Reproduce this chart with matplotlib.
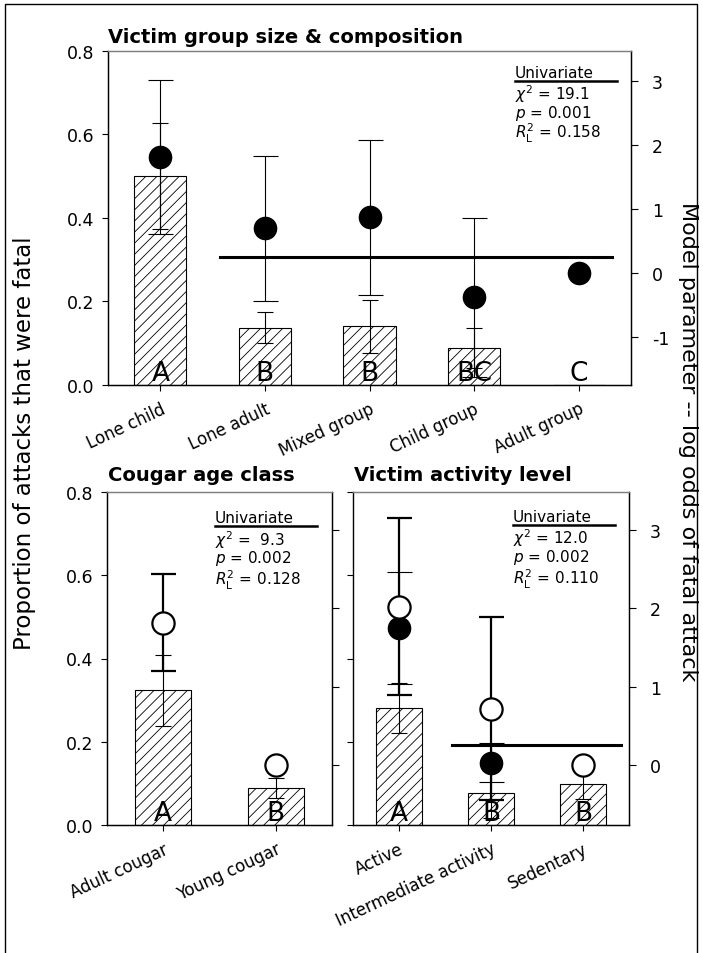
import numpy as np
import matplotlib
matplotlib.use('Agg')
import matplotlib.pyplot as plt
from matplotlib.patches import Rectangle

# victim group size & composition (top panel)
group_labels = ['Lone child', 'Lone adult', 'Mixed group', 'Child group', 'Adult group']
group_letters = ['A', 'B', 'B', 'BC', 'C']
group_prop = [0.50, 0.136, 0.140, 0.087, 0.0]
group_prop_err = [0.126, 0.037, 0.064, 0.048, np.nan]
group_param = [1.81, 0.70, 0.87, -0.38, 0.0]
group_param_err = [1.20, 1.13, 1.21, 1.24, np.nan]
group_line_x = [0.57, 4.32]
group_line_y = 0.25
group_stats = ['19.1', '0.001', '0.158']

# cougar age class (bottom left)
cougar_labels = ['Adult cougar', 'Young cougar']
cougar_letters = ['A', 'B']
cougar_prop = [0.324, 0.089]
cougar_prop_err = [0.085, 0.025]
cougar_uni = [1.82, 0.0]
cougar_uni_err = [0.62, np.nan]
cougar_stats = [' 9.3', '0.002', '0.128']

# victim activity level (bottom right)
act_labels = ['Active', 'Intermediate activity', 'Sedentary']
act_letters = ['A', 'B', 'B']
act_prop = [0.280, 0.078, 0.098]
act_prop_err = [0.06, 0.06, 0.035]
act_uni = [2.02, 0.72, 0.0]
act_uni_err = [1.13, 1.17, np.nan]
act_multi = [1.75, 0.03, np.nan]
act_multi_err = [0.71, 0.25, np.nan]
act_line_x = [0.58, 2.41]
act_line_y = 0.25
act_stats = ['12.0', '0.002', '0.110']

plt.rcParams['font.family'] = 'DejaVu Sans'
plt.rcParams['hatch.linewidth'] = 0.6
plt.rcParams['axes.linewidth'] = 0.9

W, H = 703, 954
fig = plt.figure(figsize=(W / 100, H / 100), dpi=100)


def px_axes(left, top, right, bottom):
    # pixel box -> figure fraction axes
    return fig.add_axes([left / W, 1 - bottom / H, (right - left) / W, (bottom - top) / H])


def style_main(ax, labels, show_left=True):
    ax.set_ylim(0, 0.8)
    ax.set_xlim(-0.5, len(labels) - 0.5)
    ax.set_yticks([0.0, 0.2, 0.4, 0.6, 0.8])
    if show_left:
        ax.set_yticklabels(['0.0', '0.2', '0.4', '0.6', '0.8'])
    else:
        ax.set_yticklabels([])
    ax.set_xticks(range(len(labels)))
    ax.set_xticklabels(labels, rotation=25, ha='right', rotation_mode='anchor')
    ax.tick_params(axis='y', direction='out', length=4, width=0.8, labelsize=12.5, pad=6)
    ax.tick_params(axis='x', direction='out', length=4.5, width=0.8, labelsize=12, pad=6)
    ax.spines['top'].set_color('#808080')


def style_twin(ax2, ylim, ticks, show_labels=True):
    ax2.set_ylim(*ylim)
    ax2.set_yticks(ticks)
    if show_labels:
        # plain hyphen for negatives, as in the original figure
        ax2.set_yticklabels([str(t).replace('\u2212', '-') for t in ticks])
    else:
        ax2.set_yticklabels([])
    ax2.tick_params(axis='y', direction='out', length=5, width=0.8, labelsize=12.5, pad=10)
    ax2.spines['top'].set_color('#808080')


def draw_bars(ax, prop, err, letters):
    x = np.arange(len(prop))
    ax.bar(x, prop, width=0.5, color='white', edgecolor='black', hatch='///', linewidth=0.8, zorder=2)
    ax.errorbar(x, prop, yerr=err, fmt='none', ecolor='black', elinewidth=0.8,
                capsize=5.8, capthick=0.8, zorder=3)
    for i, letter in enumerate(letters):
        ax.text(i, 0.011, letter, ha='center', va='baseline', fontsize=19, zorder=4)


def draw_stats(ax, stats, x0, x1, y_uni, y_line, y_rows):
    ax.text(x0, y_uni, 'Univariate', transform=ax.transAxes, ha='left', va='center', fontsize=11)
    ax.plot([x0, x1], [y_line, y_line], transform=ax.transAxes, color='black', lw=1.8, clip_on=False)
    ax.text(x0, y_rows[0], r'$\chi^2$ = ' + stats[0], transform=ax.transAxes, ha='left', va='center', fontsize=11)
    ax.text(x0, y_rows[1], r'$p$ = ' + stats[1], transform=ax.transAxes, ha='left', va='center', fontsize=11)
    ax.text(x0, y_rows[2], r'$R^2_{\mathrm{L}}$ = ' + stats[2], transform=ax.transAxes, ha='left', va='center', fontsize=11)


# top panel
ax_top = px_axes(108, 51.7, 631, 385.7)
style_main(ax_top, group_labels)
draw_bars(ax_top, group_prop, group_prop_err, group_letters)
ax_top2 = ax_top.twinx()
style_twin(ax_top2, (-1.745, 3.473), [-1, 0, 1, 2, 3])
ax_top2.plot(group_line_x, [group_line_y, group_line_y], color='black', lw=2.2, zorder=3)
ax_top2.errorbar(range(len(group_param)), group_param, yerr=group_param_err, fmt='o', ms=16,
                 mfc='black', mec='black', ecolor='black', elinewidth=0.8, capsize=9,
                 capthick=0.8, zorder=4)
draw_stats(ax_top, group_stats, 0.778, 0.973, 0.936, 0.910, [0.873, 0.814, 0.754])

# bottom left panel
ax_bl = px_axes(107, 493, 332, 826)
style_main(ax_bl, cougar_labels)
draw_bars(ax_bl, cougar_prop, cougar_prop_err, cougar_letters)
ax_bl2 = ax_bl.twinx()
style_twin(ax_bl2, (-0.766, 3.487), [0, 1, 2, 3], show_labels=False)
ax_bl2.errorbar(range(len(cougar_uni)), cougar_uni, yerr=cougar_uni_err, fmt='o', ms=16,
                mfc='white', mec='black', mew=1.6, ecolor='black', elinewidth=1.6, capsize=9,
                capthick=1.6, zorder=4)
draw_stats(ax_bl, cougar_stats, 0.48, 0.933, 0.922, 0.899, [0.859, 0.804, 0.739])

# bottom right panel
ax_br = px_axes(353, 493, 629, 826)
style_main(ax_br, act_labels, show_left=False)
ax_br.spines['left'].set_color('#606060')
draw_bars(ax_br, act_prop, act_prop_err, act_letters)
ax_br2 = ax_br.twinx()
style_twin(ax_br2, (-0.766, 3.487), [0, 1, 2, 3])
ax_br2.plot(act_line_x, [act_line_y, act_line_y], color='black', lw=2.2, zorder=3)
ax_br2.errorbar(range(len(act_multi)), act_multi, yerr=act_multi_err, fmt='o', ms=16,
                mfc='black', mec='black', ecolor='black', elinewidth=0.8, capsize=9,
                capthick=0.8, zorder=4)
ax_br2.errorbar(range(len(act_uni)), act_uni, yerr=act_uni_err, fmt='o', ms=16,
                mfc='white', mec='black', mew=1.6, ecolor='black', elinewidth=1.6, capsize=9,
                capthick=1.6, zorder=5)
draw_stats(ax_br, act_stats, 0.579, 0.949, 0.926, 0.902, [0.864, 0.806, 0.741])

# titles and shared axis labels
fig.text(108 / W, 1 - 42.7 / H, 'Victim group size & composition', ha='left', va='baseline',
         fontsize=14, fontweight='bold')
fig.text(108 / W, 1 - 481 / H, 'Cougar age class', ha='left', va='baseline',
         fontsize=14, fontweight='bold')
fig.text(354 / W, 1 - 481 / H, 'Victim activity level', ha='left', va='baseline',
         fontsize=14, fontweight='bold')
fig.text(25 / W, 1 - 443 / H, 'Proportion of attacks that were fatal', rotation=90,
         ha='center', va='center', fontsize=16.5)
fig.text(688 / W, 1 - 442 / H, 'Model parameter -- log odds of fatal attack', rotation=270,
         ha='center', va='center', fontsize=16)

# frame around the whole figure
fig.patches.append(Rectangle((5 / W, -0.02), 692 / W, 1.02 - 5 / H, transform=fig.transFigure,
                             fill=False, edgecolor='black', lw=1))

fig.savefig('out.png', dpi=100)
